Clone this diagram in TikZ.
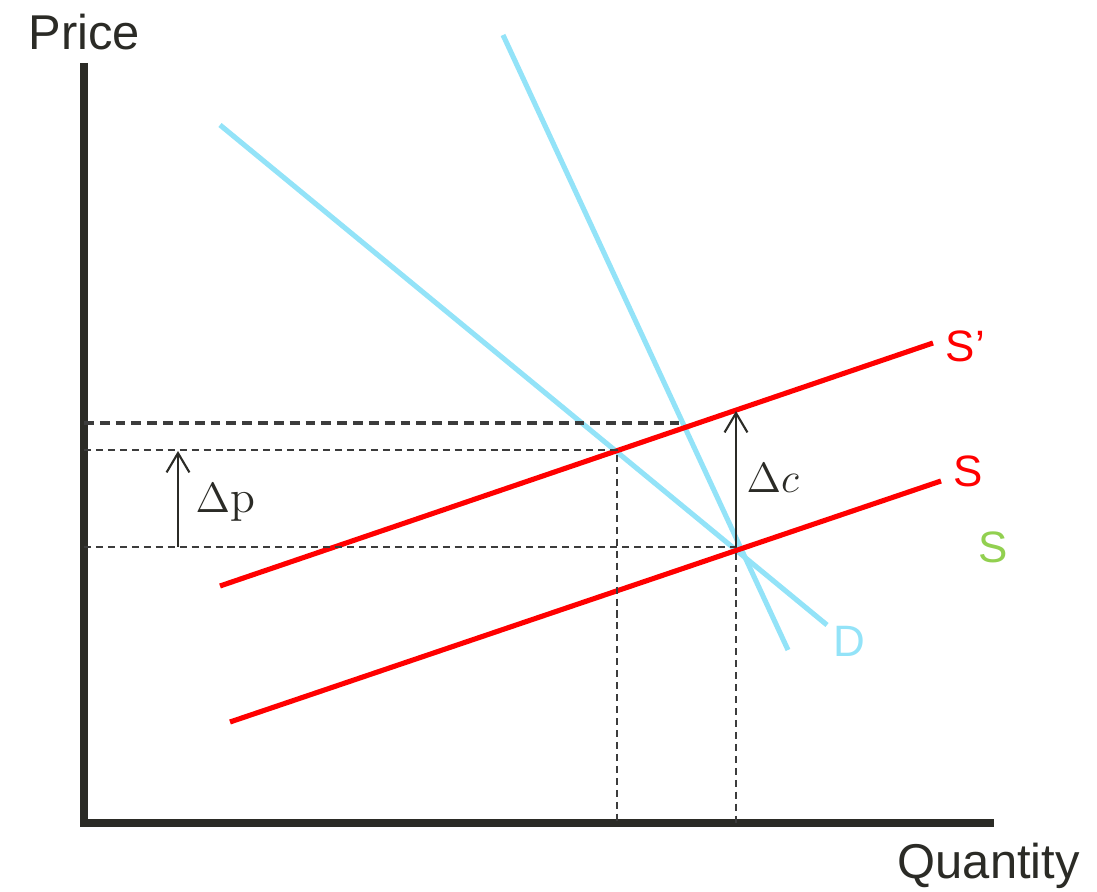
\documentclass[tikz,border=0pt]{standalone}
\usepackage{fontspec}
\newfontfamily\labelfont{Liberation Sans}
\usetikzlibrary{arrows.meta}
\definecolor{axisgray}{HTML}{2B2B26}
\definecolor{guidegray}{HTML}{3C3C3C}
\definecolor{dblue}{HTML}{93E3F8}
\definecolor{sred}{HTML}{FF0000}
\definecolor{sgreen}{HTML}{92D050}
\begin{document}
\begin{tikzpicture}[x=0.01cm,y=-0.01cm,>={Straight Barb[length=5.5pt,width=6.5pt]},
    axis/.style={line width=2pt,color=axisgray,line join=miter},
    demand/.style={line width=1.45pt,color=dblue},
    supply/.style={line width=1.45pt,color=sred},
    guide/.style={line width=0.7pt,color=guidegray,dash pattern=on 2pt off 1.4pt},
    guidethick/.style={line width=0.9pt,color=guidegray,dash pattern=on 2.8pt off 1.7pt},
    lbl/.style={font=\labelfont\fontsize{12.5}{14}\selectfont,inner sep=0pt,anchor=base west},
    axlbl/.style={font=\labelfont\fontsize{13.9}{15}\selectfont,inner sep=0pt,anchor=base west,color=axisgray},
    dlbl/.style={font=\fontsize{13}{15}\selectfont,inner sep=0pt,anchor=base west,color=axisgray}]
  \useasboundingbox (0,0) rectangle (1097,892);
  % axes
  \coordinate (ytop) at (84,63);
  \coordinate (O) at (84,823);
  \coordinate (xend) at (994,823);
  \draw[axis] (ytop) -- (O) -- (xend);
  \node[axlbl] (price) at (28,50) {Price};
  \node[axlbl] (qty) at (897,879) {Quantity};
  % demand and supply
  \coordinate (d1a) at (220,125); \coordinate (d1b) at (827,625);
  \coordinate (d2a) at (503,35);  \coordinate (d2b) at (788,650);
  \coordinate (s1a) at (220,586); \coordinate (s1b) at (933,343);
  \coordinate (s0a) at (230,722); \coordinate (s0b) at (941,481);
  \draw[demand] (d1a) -- (d1b);
  \draw[demand] (d2a) -- (d2b);
  \draw[supply] (s1a) -- (s1b);
  \draw[supply] (s0a) -- (s0b);
  \node[lbl,sred] (lblsone) at (945,362) {S’};
  \node[lbl,sred] (lblszero) at (953,487) {S};
  \node[lbl,sgreen] (lblsg) at (978,563) {S};
  \node[lbl,dblue] (lbld) at (833,657) {D};
  % guide lines
  \coordinate (A) at (681,423); \coordinate (pA) at (84,423);
  \coordinate (B) at (617,450); \coordinate (pB) at (84,450); \coordinate (qB) at (617,823);
  \coordinate (E) at (736,547); \coordinate (pE) at (84,547); \coordinate (qE) at (736,823);
  \draw[guidethick] (pA) -- (A);
  \draw[guide] (pB) -- (B) -- (qB);
  \draw[guide] (pE) -- (E) -- (qE);
  % shifts
  \coordinate (dpzero) at (178,547); \coordinate (dpone) at (178,451);
  \coordinate (dcone) at (736,411);
  \draw[->,line width=0.6pt,color=axisgray] (dpzero) -- (dpone);
  \draw[->,line width=0.6pt,color=axisgray] (E) -- (dcone);
  \node[dlbl] (lbldp) at (195,513) {$\Delta$p};
  \node[dlbl] (lbldc) at (746,493) {$\Delta c$};
\end{tikzpicture}
\end{document}
